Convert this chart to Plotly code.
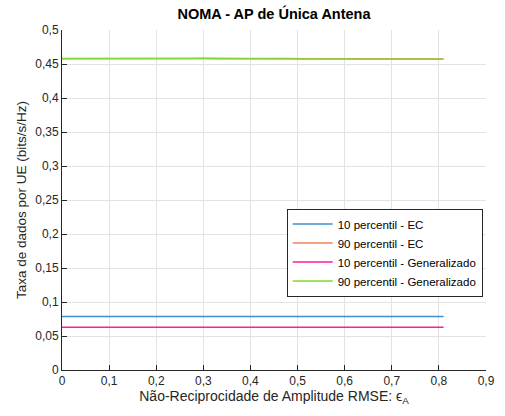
import plotly.graph_objects as go

# RMSE of the amplitude non-reciprocity
eps_a = [0.00, 0.03, 0.06, 0.09, 0.12, 0.15, 0.18, 0.21, 0.24, 0.27,
         0.30, 0.33, 0.36, 0.39, 0.42, 0.45, 0.48, 0.51, 0.54, 0.57,
         0.60, 0.63, 0.66, 0.69, 0.72, 0.75, 0.78, 0.81]

# Per-UE rate (bits/s/Hz)
p10_ec = [0.0788, 0.0787, 0.0788, 0.0787, 0.0787, 0.0788, 0.0787, 0.0786, 0.0787, 0.0788,
          0.0787, 0.0787, 0.0786, 0.0787, 0.0788, 0.0787, 0.0786, 0.0787, 0.0788, 0.0787,
          0.0787, 0.0786, 0.0787, 0.0788, 0.0787, 0.0786, 0.0787, 0.0787]
p90_ec = [0.4582, 0.4581, 0.4582, 0.4581, 0.4580, 0.4579, 0.4579, 0.4580, 0.4581, 0.4580,
          0.4585, 0.4581, 0.4580, 0.4580, 0.4581, 0.4584, 0.4580, 0.4578, 0.4577, 0.4578,
          0.4576, 0.4577, 0.4575, 0.4576, 0.4577, 0.4574, 0.4572, 0.4572]
p10_gen = [0.0628, 0.0628, 0.0629, 0.0628, 0.0628, 0.0628, 0.0627, 0.0628, 0.0628, 0.0628,
           0.0628, 0.0629, 0.0628, 0.0628, 0.0627, 0.0628, 0.0628, 0.0628, 0.0628, 0.0627,
           0.0628, 0.0628, 0.0628, 0.0627, 0.0628, 0.0628, 0.0628, 0.0628]
p90_gen = [0.4579, 0.4580, 0.4580, 0.4581, 0.4581, 0.4579, 0.4575, 0.4578, 0.4579, 0.4580,
           0.4580, 0.4579, 0.4578, 0.4580, 0.4582, 0.4579, 0.4577, 0.4578, 0.4576, 0.4578,
           0.4575, 0.4576, 0.4573, 0.4574, 0.4572, 0.4572, 0.4570, 0.4571]

series_names = ["10 percentil - EC", "90 percentil - EC",
                "10 percentil - Generalizado", "90 percentil - Generalizado"]
series_colors = ["#3d8fd1", "#f2845c", "#ff1aa3", "#80d92e"]

x_ticks = [0, 0.1, 0.2, 0.3, 0.4, 0.5, 0.6, 0.7, 0.8, 0.9]
x_tick_text = ["0", "0,1", "0,2", "0,3", "0,4", "0,5", "0,6", "0,7", "0,8", "0,9"]
y_ticks = [0, 0.05, 0.1, 0.15, 0.2, 0.25, 0.3, 0.35, 0.4, 0.45, 0.5]
y_tick_text = ["0", "0,05", "0,1", "0,15", "0,2", "0,25", "0,3", "0,35", "0,4", "0,45", "0,5"]

fig = go.Figure()
for name, ys, col in zip(series_names, [p10_ec, p90_ec, p10_gen, p90_gen], series_colors):
    fig.add_trace(go.Scatter(x=eps_a, y=ys, mode="lines", name=name,
                             line=dict(color=col, width=1.5)))

axis_common = dict(
    showgrid=True, gridcolor="#e3e3e3", gridwidth=1,
    showline=True, linecolor="#262626", linewidth=1,
    ticks="inside", ticklen=5, tickcolor="#262626",
    tickfont=dict(family="Liberation Sans", size=12, color="#262626"),
    zeroline=False,
)

fig.update_layout(
    width=505, height=416,
    margin=dict(l=62, r=10, t=30, b=46),
    paper_bgcolor="white", plot_bgcolor="white",
    font=dict(family="Liberation Sans", color="#262626"),
    title=dict(text="<b>NOMA - AP de Única Antena</b>", x=0.5, xref="paper",
               y=1 - 14 / 416, yanchor="middle",
               font=dict(size=14.5, color="#000000")),
    xaxis=dict(range=[0, 0.9], tickvals=x_ticks, ticktext=x_tick_text,
               title=dict(text="Não-Reciprocidade de Amplitude RMSE: ϵ<sub>A</sub>",
                          font=dict(size=14, color="#262626"), standoff=3),
               **axis_common),
    yaxis=dict(range=[0, 0.5], tickvals=y_ticks, ticktext=y_tick_text,
               title=dict(text="Taxa de dados por UE (bits/s/Hz)",
                          font=dict(size=13.5, color="#262626"), standoff=5),
               **axis_common),
    legend=dict(x=0.53, y=0.475, xanchor="left", yanchor="top",
                bgcolor="white", bordercolor="#262626", borderwidth=1,
                font=dict(size=11.5, color="#000000"),
                itemwidth=40, tracegroupgap=0),
    showlegend=True,
)

fig.write_html("out.html")
